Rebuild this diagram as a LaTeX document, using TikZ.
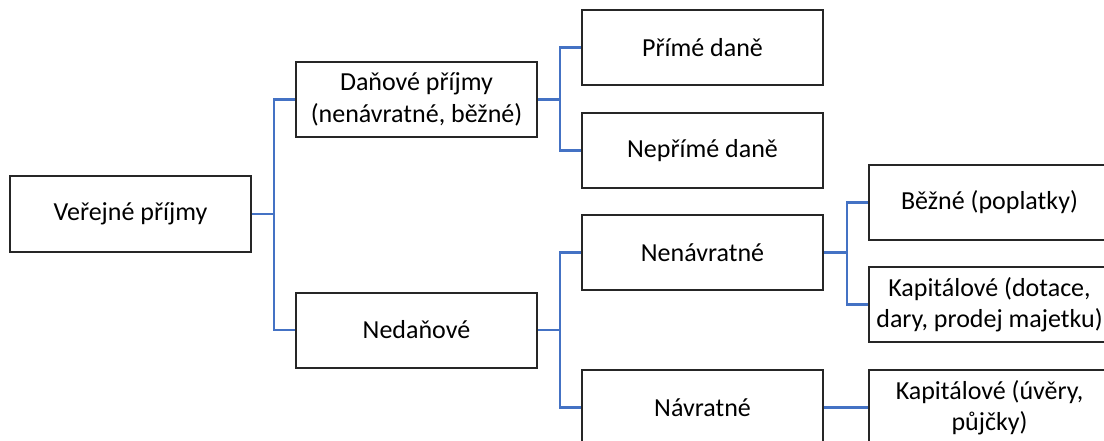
\documentclass[tikz,border=0pt]{standalone}
\usepackage{fontspec}
\setmainfont{Carlito}
\definecolor{linkblue}{HTML}{4472C4}
\tikzset{
  box/.style={draw=black!85, line width=2pt, fill=white, minimum width=241pt, minimum height=75pt, inner sep=2pt, align=center, font=\fontsize{26}{31.5}\selectfont},
  link/.style={draw=linkblue, line width=2.4pt}
}
\begin{document}
\begin{tikzpicture}[x=1pt,y=1pt]
  \useasboundingbox (0,0) rectangle (1104,-441);
  \clip (0,0) rectangle (1104,-441);

  \node[box] (verejne) at (130.5,-214) {Veřejné příjmy};
  \node[box] (danove) at (416.5,-99.5) {Daňové příjmy\\(nenávratné, běžné)};
  \node[box] (nedanove) at (416.5,-330) {Nedaňové};

  \node[box] (prime) at (702.5,-47.5) {Přímé daně};
  \node[box] (neprime) at (702.5,-150.5) {Nepřímé daně};
  \node[box] (nenavratne) at (702.5,-252.5) {Nenávratné};
  \node[box] (navratne) at (702.5,-407.5) {Návratné};

  \node[box] (bezne) at (989.5,-202.5) {Běžné (poplatky)};
  \node[box] (kapdot) at (989.5,-304.5) {Kapitálové (dotace,\\dary, prodej majetku)};
  \node[box] (kapuver) at (989.5,-407.5) {Kapitálové (úvěry,\\půjčky)};

  \draw[link] (verejne.east) -- ++(22,0) |- (danove.west);
  \draw[link] (verejne.east) -- ++(22,0) |- (nedanove.west);
  \draw[link] (danove.east) -- ++(22,0) |- (prime.west);
  \draw[link] (danove.east) -- ++(22,0) |- (neprime.west);
  \draw[link] (nedanove.east) -- ++(22,0) |- (nenavratne.west);
  \draw[link] (nedanove.east) -- ++(22,0) |- (navratne.west);
  \draw[link] (nenavratne.east) -- ++(23,0) |- (bezne.west);
  \draw[link] (nenavratne.east) -- ++(23,0) |- (kapdot.west);
  \draw[link] (navratne.east) -- (kapuver.west);
\end{tikzpicture}
\end{document}
